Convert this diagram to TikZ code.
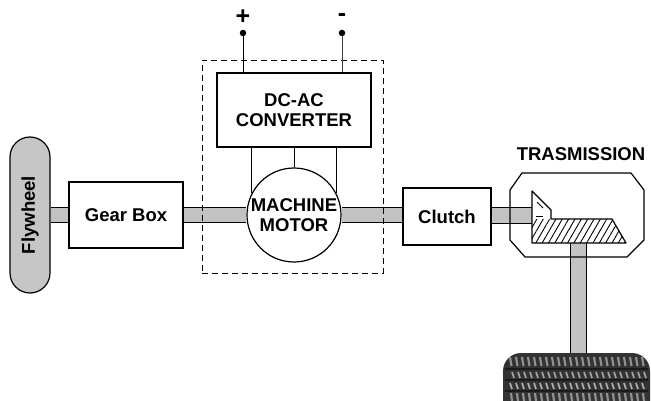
\documentclass[tikz,border=0pt]{standalone}
\usepackage{fontspec}
\setmainfont{Liberation Sans}
\usetikzlibrary{patterns.meta,backgrounds}
\definecolor{shaftgray}{HTML}{C2C2C2}
\definecolor{wheelgray}{HTML}{C6C6C6}
\definecolor{tiredark}{HTML}{333333}
\definecolor{treadgray}{HTML}{909090}
\definecolor{groove}{HTML}{1A1A1A}
\begin{document}
\begin{tikzpicture}[x=1pt,y=-1pt,
  lbl/.style={font=\fontsize{18.5}{20.5}\selectfont\bfseries, align=center},
  blockbox/.style={draw, line width=1.2pt, fill=white, inner sep=0pt, lbl},
  shaft/.style={double=shaftgray, double distance=14pt, line width=1pt},
  wire/.style={line width=0.9pt},
  term/.style={circle, fill=black, inner sep=0pt, minimum size=6.5pt},
  outline/.style={line width=1.2pt, line join=round}]
\useasboundingbox (0,0) rectangle (651,401);

% flywheel
\node[draw, line width=1.2pt, fill=wheelgray, rounded corners=20pt,
      minimum width=40pt, minimum height=156pt, inner sep=0pt] (fly) at (30,215) {};
\node[lbl, rotate=90] (flylbl) at (fly.center) {Flywheel};

% blocks
\node[blockbox, minimum width=114pt, minimum height=66pt] (gear) at (126,215) {Gear Box};
\node[blockbox, minimum width=154pt, minimum height=74pt] (conv) at (294,110) {DC-AC\\CONVERTER};
\node[blockbox, circle, minimum size=94pt] (motor) at (294,215) {MACHINE\\MOTOR};
\node[blockbox, minimum width=88pt, minimum height=57pt] (clutch) at (447,216.5) {Clutch};

% electrical side enclosure
\node[draw, line width=0.8pt, dash pattern=on 6pt off 4pt,
      minimum width=181pt, minimum height=213pt, inner sep=0pt] (drive) at (292.5,166.5) {};

% supply terminals
\node[term] (plus) at (243,33) {};
\node[term] (minus) at (342,33) {};
\node[lbl, font=\fontsize{25}{25}\selectfont\bfseries] (pluslbl) at (243,17) {+};
\node[lbl, font=\fontsize{25}{25}\selectfont\bfseries] (minuslbl) at (342,18) {-};
\draw[wire] (plus) -- (plus |- conv.north);
\draw[wire, black!75] (minus) -- (minus |- conv.north);

% converter to motor phases
\draw[wire] (motor.153) -- (motor.153 |- conv.south);
\draw[wire] (motor.north) -- (conv.south);
\draw[wire] (motor.27) -- (motor.27 |- conv.south);

% transmission housing
\coordinate (bevel) at (532,215.5);
\coordinate (bevelfoot) at (578,243);
\coordinate (tiretop) at (578,353);
\draw[outline] (522,173) -- (631,173) -- (644,190) -- (644,240) -- (627,257)
  -- (525,257) -- (510,240) -- (510,190) -- cycle;
\node[lbl] (translbl) at (581,154) {TRASMISSION};

% bevel gear
\fill[white] (532,191) -- (551,210) -- (551,219) -- (612,219) -- (626,243) -- (532,243) -- cycle;
\fill[pattern={Lines[angle=60,distance=5.5pt,line width=0.9pt]}]
  (532,219) -- (612,219) -- (626,243) -- (532,243) -- cycle;
\draw[outline] (532,191) -- (551,210) -- (551,219) -- (612,219) -- (626,243) -- (532,243) -- cycle;
\draw[line width=0.8pt] (537,202) -- (543,208);
\draw[line width=0.8pt] (536,216) -- (543,216);

% tyre
\begin{scope}
  \clip (0,0) rectangle (651,401);
  \fill[tiredark, rounded corners=18pt] (503,353) rectangle (650,420);
  \foreach \x in {510,516,...,644} {
    \draw[treadgray, line width=2.2pt] (\x,357) -- (\x+1.5,366);
    \draw[treadgray!80, line width=1.6pt] (\x+2,372) -- (\x+4,378);
    \draw[treadgray!70, line width=1.6pt] (\x,383) -- (\x+2,389);
    \draw[treadgray, line width=2.2pt] (\x+1,393) -- (\x+2,401);
  }
  \foreach \y in {369,380,391} {
    \draw[groove, line width=1.6pt] (505,\y) -- (648,\y);
  }
\end{scope}

% shafts behind everything
\begin{scope}[on background layer]
  \draw[shaft] (fly.east) -- (gear.west);
  \draw[shaft] (gear.east) -- (motor.west);
  \draw[shaft] (motor.east) -- (motor.east -| clutch.west);
  \draw[shaft] (clutch.east |- bevel) -- (bevel);
  \draw[shaft, double distance=15pt] (bevelfoot) -- (tiretop);
\end{scope}
\end{tikzpicture}
\end{document}
